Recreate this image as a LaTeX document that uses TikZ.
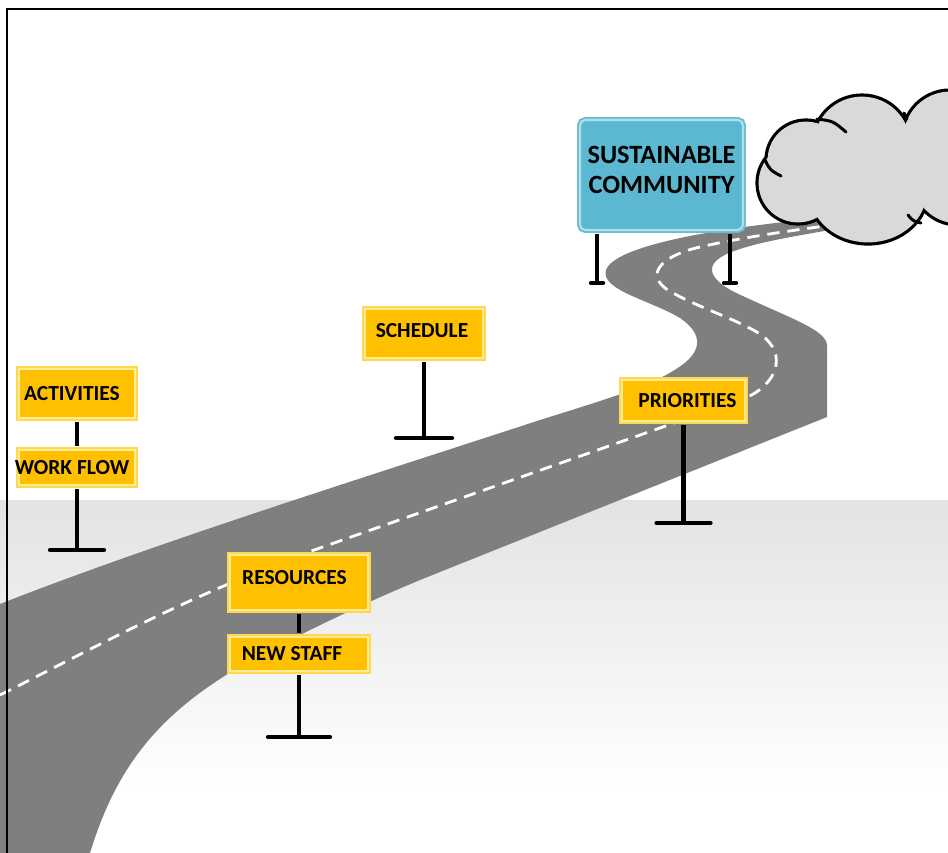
\documentclass[tikz,border=0pt]{standalone}
\usepackage{fontspec}
\setmainfont{Carlito}
\usepackage{xcolor}

\definecolor{roadgray}{RGB}{127,127,127}
\definecolor{signyellow}{RGB}{255,192,0}
\definecolor{signpale}{RGB}{255,236,150}
\definecolor{signrim}{RGB}{255,216,80}
\definecolor{goalblue}{RGB}{92,183,208}
\definecolor{goalpale}{RGB}{170,226,238}
\definecolor{goalrim}{RGB}{112,186,206}
\definecolor{cloudgray}{RGB}{217,217,217}

\begin{document}
\begin{tikzpicture}[
  x=0.02cm, y=-0.02cm,
  signboard/.style={rectangle, fill=signyellow, draw=signpale, line width=1.2pt,
    preaction={draw=signrim, line width=3.4pt}, inner sep=0pt,
    font=\fontsize{12.2}{14}\selectfont\bfseries},
  goalboard/.style={rectangle, rounded corners=3pt, fill=goalblue, draw=goalpale, line width=1.2pt,
    preaction={draw=goalrim, line width=3.4pt}, inner sep=0pt, align=center,
    font=\fontsize{15}{17}\selectfont\bfseries},
  post/.style={line width=2.6pt, shorten <=1.6pt},
  link/.style={post, shorten >=1.6pt},
  foot/.style={line width=2.4pt, line cap=round},
  road/.style={fill=roadgray},
  lane/.style={draw=white, line width=1.6pt, dash pattern=on 7pt off 4.5pt},
  puff/.style={line width=1.7pt, line cap=round}
]
\useasboundingbox (0,0) rectangle (948,853);
\fill[white] (0,0) rectangle (948,853);
\shade[top color=gray!22, bottom color=white] (0,500) rectangle (948,790);

% the road and its centre line
\path[road] (0,853) -- (90,853)
  .. controls (120,755) and (170,700) .. (280,645)
  .. controls (320,625) and (360,605) .. (420,580)
  -- (827,417) -- (827,345)
  .. controls (826,330) and (790,318) .. (745,297)
  .. controls (705,280) and (700,262) .. (737,250)
  .. controls (760,242) and (790,237) .. (830,230)
  -- (860,226) -- (860,214) -- (813,219)
  .. controls (720,228) and (615,245) .. (606,270)
  .. controls (600,290) and (650,300) .. (680,318)
  .. controls (705,335) and (700,352) .. (682,365)
  .. controls (655,385) and (610,398) .. (540,420)
  .. controls (350,482) and (150,545) .. (0,604) -- cycle;
\draw[lane] (0,695) .. controls (100,645) and (170,605) .. (300,555)
  -- (745,398)
  .. controls (775,386) and (790,355) .. (760,334)
  .. controls (735,318) and (690,305) .. (665,288)
  .. controls (645,272) and (665,255) .. (700,247)
  .. controls (740,238) and (780,232) .. (840,224);

% cloud
\foreach \cx/\cy/\rx/\ry in {806/160/40/40, 798/183/41/41, 862/145/50/50, 868/192/60/52,
    950/138/48/48, 958/178/47/47, 872/172/50/50}
  \fill[black] (\cx,\cy) ellipse [x radius=\rx+1.6, y radius=\ry+1.6];
\foreach \cx/\cy/\rx/\ry in {806/160/40/40, 798/183/41/41, 862/145/50/50, 868/192/60/52,
    950/138/48/48, 958/178/47/47, 872/172/50/50}
  \fill[cloudgray] (\cx,\cy) ellipse [x radius=\rx-1.6, y radius=\ry-1.6];
\draw[puff] (765,160) .. controls (770,170) .. (781,176);
\draw[puff] (817,119) .. controls (833,121) .. (846,132);
\draw[puff] (904,113) -- (907,119);
\draw[puff] (908,215) .. controls (913,221) .. (921,223);

% signs
\coordinate (goal-left) at (597,283);
\coordinate (goal-right) at (730,283);
\coordinate (schedule-base) at (424,438);
\coordinate (workflow-base) at (77,550);
\coordinate (newstaff-base) at (299,737);
\coordinate (priorities-base) at (683.5,523);

\node[goalboard, minimum width=3.26cm, minimum height=2.2cm, text depth=0.2cm] (goal) at (661.5,175) {SUSTAINABLE\\COMMUNITY};
\node[signboard, minimum width=2.36cm, minimum height=0.98cm, text depth=0.14cm] (schedule) at (424,333.5) {\hspace*{-0.08cm}SCHEDULE};
\node[signboard, minimum width=2.32cm, minimum height=0.98cm] (activities) at (77,393.5) {\hspace*{-0.2cm}ACTIVITIES};
\node[signboard, minimum width=2.32cm, minimum height=0.70cm] (workflow) at (77,467.5) {\hspace*{-0.2cm}WORK FLOW};
\node[signboard, minimum width=2.76cm, minimum height=1.10cm, text depth=0.22cm] (resources) at (299,582.5) {\hspace*{-0.18cm}RESOURCES};
\node[signboard, minimum width=2.76cm, minimum height=0.68cm] (newstaff) at (299,654) {\hspace*{-0.28cm}NEW STAFF};
\node[signboard, minimum width=2.46cm, minimum height=0.82cm] (priorities) at (683.5,400.5) {PRIORITIES\hspace*{-0.16cm}};

\draw[post] (goal.south -| goal-left) -- (goal-left);
\draw[post] (goal.south -| goal-right) -- (goal-right);
\draw[post] (schedule.south) -- (schedule-base);
\draw[link] (activities) -- (workflow);
\draw[post] (workflow.south) -- (workflow-base);
\draw[link] (resources) -- (newstaff);
\draw[post] (newstaff.south) -- (newstaff-base);
\draw[post] (priorities.south) -- (priorities-base);

\draw[foot] (goal-left) +(-6,0) -- +(6,0);
\draw[foot] (goal-right) +(-6,0) -- +(6,0);
\draw[foot] (schedule-base) +(-28,0) -- +(28,0);
\draw[foot] (workflow-base) +(-27,0) -- +(27,0);
\draw[foot] (newstaff-base) +(-31,0) -- +(31,0);
\draw[foot] (priorities-base) +(-27,0) -- +(27,0);

% frame
\draw[line width=1.4pt] (7,853) -- (7,9) -- (948,9);
\end{tikzpicture}
\end{document}
